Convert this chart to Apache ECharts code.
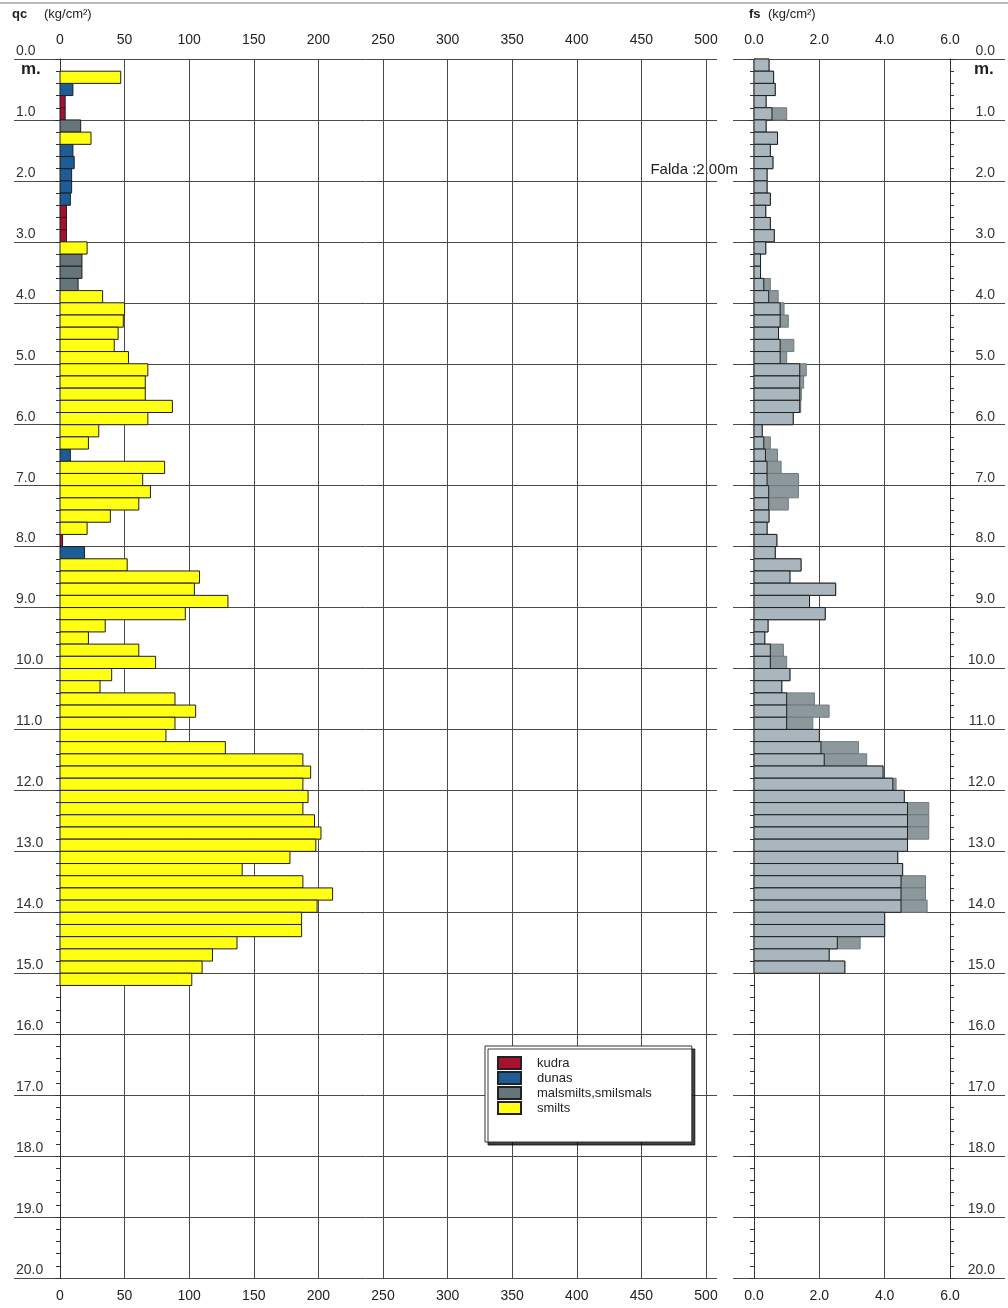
<!DOCTYPE html>
<html>
<head>
<meta charset="utf-8">
<script src="https://cdn.jsdelivr.net/npm/echarts@6/dist/echarts.min.js"></script>
<style>
  html, body { margin: 0; padding: 0; background: #fff; }
  #chart { width: 1008px; height: 1308px; }
</style>
</head>
<body>
<div id="chart"></div>
<script>
  // layer thickness (m)
  var LAYER = 0.2;

  // qc: layer top depth (m), value (kg/cm2), soil type
  var qcTop = [0.2, 0.4, 0.6, 0.8, 1.0, 1.2, 1.4, 1.6, 1.8, 2.0, 2.2, 2.4, 2.6, 2.8, 3.0, 3.2, 3.4, 3.6, 3.8,
    4.0, 4.2, 4.4, 4.6, 4.8, 5.0, 5.2, 5.4, 5.6, 5.8, 6.0, 6.2, 6.4, 6.6, 6.8, 7.0, 7.2, 7.4, 7.6, 7.8,
    8.0, 8.2, 8.4, 8.6, 8.8, 9.0, 9.2, 9.4, 9.6, 9.8, 10.0, 10.2, 10.4, 10.6, 10.8, 11.0, 11.2, 11.4, 11.6, 11.8,
    12.0, 12.2, 12.4, 12.6, 12.8, 13.0, 13.2, 13.4, 13.6, 13.8, 14.0, 14.2, 14.4, 14.6, 14.8, 15.0];
  var qcValue = [47, 10, 4, 4, 16, 24, 10, 11, 9, 9, 8, 5, 5, 5, 21, 17, 17, 14, 33,
    50, 49, 45, 42, 53, 68, 66, 66, 87, 68, 30, 22, 8, 81, 64, 70, 61, 39, 21, 2,
    19, 52, 108, 104, 130, 97, 35, 22, 61, 74, 40, 31, 89, 105, 89, 82, 128, 188, 194, 188,
    192, 188, 197, 202, 198, 178, 141, 188, 211, 199, 187, 187, 137, 118, 110, 102];
  var qcSoil = ['s', 'd', 'k', 'k', 'm', 's', 'd', 'd', 'd', 'd', 'd', 'k', 'k', 'k', 's', 'm', 'm', 'm', 's',
    's', 's', 's', 's', 's', 's', 's', 's', 's', 's', 's', 's', 'd', 's', 's', 's', 's', 's', 's', 'k',
    'd', 's', 's', 's', 's', 's', 's', 's', 's', 's', 's', 's', 's', 's', 's', 's', 's', 's', 's', 's',
    's', 's', 's', 's', 's', 's', 's', 's', 's', 's', 's', 's', 's', 's', 's', 's'];

  // fs: layer top depth (m), solid part and outer (dotted) extent (kg/cm2)
  var fsTop = [0.0, 0.2, 0.4, 0.6, 0.8, 1.0, 1.2, 1.4, 1.6, 1.8, 2.0, 2.2, 2.4, 2.6, 2.8, 3.0, 3.2, 3.4, 3.6, 3.8,
    4.0, 4.2, 4.4, 4.6, 4.8, 5.0, 5.2, 5.4, 5.6, 5.8, 6.0, 6.2, 6.4, 6.6, 6.8, 7.0, 7.2, 7.4, 7.6, 7.8,
    8.0, 8.2, 8.4, 8.6, 8.8, 9.0, 9.2, 9.4, 9.6, 9.8, 10.0, 10.2, 10.4, 10.6, 10.8, 11.0, 11.2, 11.4, 11.6, 11.8,
    12.0, 12.2, 12.4, 12.6, 12.8, 13.0, 13.2, 13.4, 13.6, 13.8, 14.0, 14.2, 14.4, 14.6, 14.8];
  var fsSolid = [0.46, 0.6, 0.65, 0.37, 0.55, 0.37, 0.72, 0.5, 0.58, 0.4, 0.4, 0.5, 0.36, 0.5, 0.62, 0.36, 0.2, 0.2, 0.3, 0.45,
    0.8, 0.8, 0.75, 0.8, 0.8, 1.4, 1.4, 1.4, 1.4, 1.2, 0.25, 0.3, 0.35, 0.4, 0.4, 0.45, 0.45, 0.46, 0.4, 0.7,
    0.65, 1.44, 1.1, 2.5, 1.7, 2.18, 0.43, 0.33, 0.5, 0.5, 1.1, 0.85, 1.0, 1.0, 1.0, 2.0, 2.05, 2.15, 3.95, 4.25,
    4.6, 4.7, 4.7, 4.7, 4.7, 4.4, 4.55, 4.5, 4.5, 4.5, 4.0, 4.0, 2.55, 2.3, 2.78];
  var fsOuter = [0.46, 0.6, 0.65, 0.37, 1.0, 0.37, 0.72, 0.5, 0.58, 0.4, 0.4, 0.5, 0.36, 0.5, 0.62, 0.36, 0.2, 0.2, 0.5, 0.74,
    0.92, 1.05, 0.75, 1.22, 1.0, 1.6, 1.52, 1.45, 1.43, 1.2, 0.25, 0.5, 0.72, 0.83, 1.36, 1.36, 1.05, 0.46, 0.4, 0.7,
    0.65, 1.44, 1.1, 2.5, 1.7, 2.18, 0.43, 0.33, 0.9, 1.0, 1.1, 0.85, 1.85, 2.3, 1.8, 2.0, 3.2, 3.45, 3.95, 4.35,
    4.6, 5.35, 5.35, 5.35, 4.7, 4.4, 4.55, 5.25, 5.25, 5.3, 4.0, 4.0, 3.25, 2.3, 2.78];

  var depthLabels = [0, 1, 2, 3, 4, 5, 6, 7, 8, 9, 10, 11, 12, 13, 14, 15, 16, 17, 18, 19, 20];

  var soils = [
    { code: 'k', name: 'kudra', color: '#a8112e' },
    { code: 'd', name: 'dunas', color: '#1d5c95' },
    { code: 'm', name: 'malsmilts,smilsmals', color: '#66757a' },
    { code: 's', name: 'smilts', color: '#ffff14' }
  ];

  var FONT = 'Liberation Sans';
  var chart = echarts.init(document.getElementById('chart'));

  function layerRect(params, api) {
    var val = api.value(0), top = api.value(1);
    var a = api.coord([0, top]);
    var b = api.coord([val, top + LAYER]);
    return {
      type: 'rect',
      shape: { x: a[0], y: a[1], width: b[0] - a[0], height: b[1] - a[1] },
      style: { fill: api.visual('color'), stroke: params.seriesName === 'fsOuter' ? '#6f7a7e' : '#1e1e1e', lineWidth: 1 }
    };
  }

  var series = soils.map(function (s) {
    var data = [];
    qcTop.forEach(function (t, i) {
      if (qcSoil[i] === s.code) data.push([qcValue[i], t]);
    });
    return {
      name: s.name,
      type: 'custom',
      xAxisIndex: 1,
      yAxisIndex: 1,
      renderItem: layerRect,
      itemStyle: { color: s.color, borderColor: '#222', borderWidth: 1 },
      encode: { x: 0, y: 1 },
      data: data,
      z: 3
    };
  });

  series.push({
    name: 'fsOuter',
    type: 'custom',
    xAxisIndex: 4,
    yAxisIndex: 3,
    renderItem: layerRect,
    itemStyle: { color: '#8c989c' },
    encode: { x: 0, y: 1 },
    data: fsTop.map(function (t, i) { return [fsOuter[i], t]; }),
    z: 2
  });
  series.push({
    name: 'fs',
    type: 'custom',
    xAxisIndex: 4,
    yAxisIndex: 3,
    renderItem: layerRect,
    itemStyle: { color: '#a9b6bd' },
    encode: { x: 0, y: 1 },
    data: fsTop.map(function (t, i) { return [fsSolid[i], t]; }),
    z: 3
  });

  var depthAxisBase = {
    type: 'value',
    min: 0,
    max: 20,
    interval: 1,
    inverse: true
  };

  // background axes: long horizontal lines with underlined depth labels
  function bgDepthAxis(grid, pos, margin) {
    return Object.assign({}, depthAxisBase, {
      gridIndex: grid,
      position: pos,
      axisLine: { show: false },
      axisTick: { show: false },
      splitLine: { show: true, lineStyle: { color: '#4a4a4a', width: 1 } },
      axisLabel: {
        inside: true,
        margin: margin,
        align: pos === 'left' ? 'left' : 'right',
        verticalAlign: 'bottom',
        padding: [0, 0, 1, 0],
        fontFamily: FONT,
        fontSize: 14,
        color: '#333',
        customValues: depthLabels,
        formatter: function (v) { return v.toFixed(1); }
      }
    });
  }

  function plotDepthAxis(grid, pos) {
    return Object.assign({}, depthAxisBase, {
      gridIndex: grid,
      position: pos,
      axisLine: { show: true, onZero: false, lineStyle: { color: '#333', width: 1 } },
      axisTick: { show: true, length: 5, lineStyle: { color: '#333' } },
      minorTick: { show: true, splitNumber: 5, length: 4, lineStyle: { color: '#333' } },
      axisLabel: { show: false },
      splitLine: { show: false }
    });
  }

  function valueAxis(grid, pos, max, interval, split, fmt, margin) {
    return {
      type: 'value',
      gridIndex: grid,
      position: pos,
      min: 0,
      max: max,
      interval: interval,
      axisLine: { show: false },
      axisTick: { show: false },
      splitLine: { show: split, lineStyle: { color: '#4a4a4a', width: 1 } },
      axisLabel: {
        margin: margin,
        fontFamily: FONT,
        fontSize: 14,
        color: '#222',
        formatter: fmt
      }
    };
  }

  var intFmt = function (v) { return String(v); };
  var decFmt = function (v) { return v.toFixed(1); };

  var option = {
    backgroundColor: '#fff',
    animation: false,
    grid: [
      { left: 14, top: 59, width: 703, height: 1219 },
      { left: 60, top: 59, width: 646, height: 1219 },
      { left: 733, top: 59, width: 272, height: 1219 },
      { left: 754, top: 59, width: 196, height: 1219 }
    ],
    xAxis: [
      { type: 'value', gridIndex: 0, min: 0, max: 1, show: false },
      valueAxis(1, 'top', 500, 50, true, intFmt, 12),
      valueAxis(1, 'bottom', 500, 50, false, intFmt, 11),
      { type: 'value', gridIndex: 2, min: 0, max: 1, show: false },
      valueAxis(3, 'top', 6, 2, true, decFmt, 12),
      valueAxis(3, 'bottom', 6, 2, false, decFmt, 11)
    ],
    yAxis: [
      bgDepthAxis(0, 'left', 2),
      plotDepthAxis(1, 'left'),
      bgDepthAxis(2, 'right', 10),
      plotDepthAxis(3, 'left'),
      plotDepthAxis(3, 'right')
    ],
    legend: {
      data: soils.map(function (s) { return s.name; }),
      orient: 'vertical',
      left: 485,
      top: 1046,
      icon: 'rect',
      itemWidth: 23,
      itemHeight: 12,
      itemGap: 1,
      padding: [10, 40, 27, 12],
      backgroundColor: '#fff',
      borderColor: '#333',
      borderWidth: 1,
      shadowColor: 'rgba(0,0,0,0.75)',
      shadowBlur: 0,
      shadowOffsetX: 3,
      shadowOffsetY: 3,
      selectedMode: false,
      textStyle: { fontFamily: FONT, fontSize: 13, lineHeight: 14, color: '#222', padding: [0, 0, 0, 11] }
    },
    graphic: [
      { type: 'line', shape: { x1: 0, y1: 3, x2: 1008, y2: 3 }, style: { stroke: '#777', lineWidth: 1 } },
      { type: 'text', left: 12, top: 8, style: { text: 'qc', font: 'bold 13px ' + FONT, fill: '#222' } },
      { type: 'text', left: 44, top: 8, style: { text: '(kg/cm²)', font: '13px ' + FONT, fill: '#222' } },
      { type: 'text', left: 749, top: 8, style: { text: 'fs', font: 'bold 13px ' + FONT, fill: '#222' } },
      { type: 'text', left: 768, top: 8, style: { text: '(kg/cm²)', font: '13px ' + FONT, fill: '#222' } },
      { type: 'text', left: 21, top: 61, style: { text: 'm.', font: 'bold 17px ' + FONT, fill: '#222' } },
      { type: 'text', left: 974, top: 61, style: { text: 'm.', font: 'bold 17px ' + FONT, fill: '#222' } },
      { type: 'text', right: 270, top: 162, style: { text: 'Falda :2.00m', font: '15px ' + FONT, fill: '#222' } }
    ],
    series: series
  };

  chart.setOption(option);
  window.addEventListener('resize', function () {
    chart.resize();
  });
</script>
</body>
</html>
